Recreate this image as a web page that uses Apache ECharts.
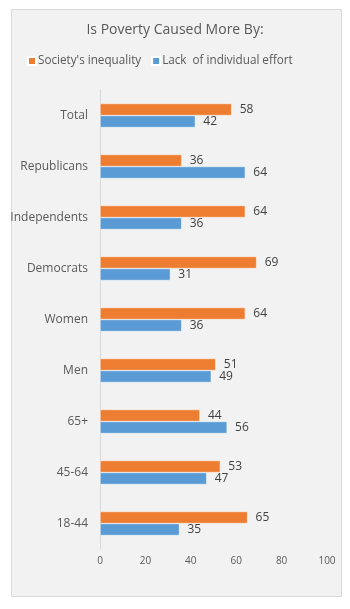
<!DOCTYPE html>
<html>
<head>
<meta charset="utf-8">
<script src="https://cdn.jsdelivr.net/npm/echarts@6/dist/echarts.min.js"></script>
<style>
  html, body { margin: 0; padding: 0; background: #fff; }
  #chart { width: 350px; height: 609px; }
</style>
</head>
<body>
<div id="chart"></div>
<script>
var categories = ['Total', 'Republicans', 'Independents', 'Democrats', 'Women', 'Men', '65+', '45-64', '18-44'];
var inequality = [58, 36, 64, 69, 64, 51, 44, 53, 65];
var lackEffort = [42, 64, 36, 31, 36, 49, 56, 47, 35];
var seriesNames = ["Society's inequality", "Lack  of individual effort"];

var myChart = echarts.init(document.getElementById('chart'));
var font = '"Open Sans", sans-serif';

var option = {
    animation: false,
    textStyle: { fontFamily: font },
    graphic: [{
        type: 'rect',
        shape: { x: 11.5, y: 9.5, width: 330, height: 587 },
        style: { fill: '#f2f2f2', stroke: '#d9d9d9', lineWidth: 1 },
        z: -10
    }],
    title: {
        text: 'Is Poverty Caused More By:',
        left: 'center',
        top: 18,
        textStyle: { fontSize: 14, fontWeight: 'normal', color: '#595959', fontFamily: font }
    },
    legend: {
        left: 22,
        top: 50,
        itemWidth: 8,
        itemHeight: 8,
        itemGap: 10,
        icon: 'rect',
        textStyle: { fontSize: 11.7, color: '#595959', fontFamily: font, padding: [0, 0, 0, -3] },
        data: seriesNames
    },
    color: ['#ed7d31', '#5b9bd5'],
    grid: { left: 100, right: 23, top: 90, bottom: 60 },
    xAxis: {
        type: 'value',
        min: 0,
        max: 100,
        interval: 20,
        axisLine: { show: false },
        axisTick: { show: false },
        splitLine: { show: false },
        axisLabel: { color: '#595959', fontSize: 10, margin: 7 }
    },
    yAxis: {
        type: 'category',
        inverse: true,
        data: categories,
        axisLine: { show: true, lineStyle: { color: '#d9d9d9' } },
        axisTick: { show: false },
        axisLabel: { color: '#595959', fontSize: 12, margin: 12 }
    },
    series: [
        {
            name: seriesNames[0],
            type: 'bar',
            data: inequality,
            barWidth: 12,
            barGap: '0%',
            itemStyle: { borderColor: '#fff', borderWidth: 0.5 },
            label: { show: true, position: 'right', color: '#404040', fontSize: 12, distance: 8 }
        },
        {
            name: seriesNames[1],
            type: 'bar',
            data: lackEffort,
            barWidth: 12,
            barGap: '0%',
            itemStyle: { borderColor: '#fff', borderWidth: 0.5 },
            label: { show: true, position: 'right', color: '#404040', fontSize: 12, distance: 8 }
        }
    ]
};

myChart.setOption(option);
window.addEventListener('resize', function () {
    myChart.resize();
});
</script>
</body>
</html>
